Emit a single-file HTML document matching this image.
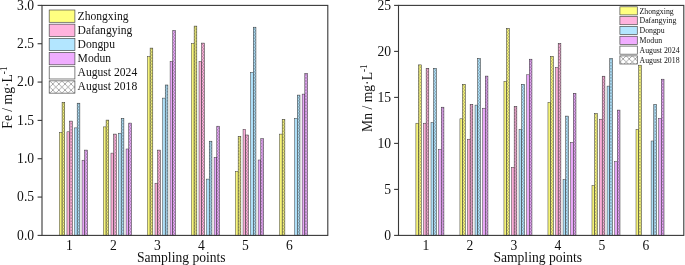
<!DOCTYPE html>
<html><head><meta charset="utf-8"><title>Fe and Mn at sampling points</title>
<style>html,body{margin:0;padding:0;background:#fff}svg{display:block}</style>
</head><body>
<svg width="685" height="265" viewBox="0 0 685 265" font-family="'Liberation Serif','DejaVu Serif',serif" fill="#111">
<defs>
<pattern id="hL" patternUnits="userSpaceOnUse" width="6.1" height="6.1" x="4.0" y="4.7">
<path d="M0 0L6.1 6.1M6.1 0L0 6.1" stroke="#333" stroke-width="0.42" fill="none"/>
</pattern>
<pattern id="hR" patternUnits="userSpaceOnUse" width="6.1" height="6.1" x="0.90" y="4.00">
<path d="M0 0L6.1 6.1M6.1 0L0 6.1" stroke="#333" stroke-width="0.42" fill="none"/>
</pattern>
<pattern id="bL" patternUnits="userSpaceOnUse" width="3.05" height="3.05" x="0.95" y="1.65">
<path d="M0 0L3.05 3.05M3.05 0L0 3.05" stroke="#333" stroke-width="0.24" fill="none"/>
</pattern>
</defs>
<rect width="685" height="265" fill="#fff"/>
<g>
<rect x="59.40" y="132.50" width="2.68" height="102.90" fill="#f6f47a" stroke="#2a2a2a" stroke-width="0.45"/>
<rect x="62.08" y="102.30" width="2.68" height="133.10" fill="#f6f47a" stroke="#2a2a2a" stroke-width="0.5"/>
<rect x="62.08" y="102.30" width="2.68" height="133.10" fill="url(#bL)" stroke="none"/>
<rect x="66.95" y="131.80" width="2.68" height="103.60" fill="#f9add7" stroke="#2a2a2a" stroke-width="0.45"/>
<rect x="69.63" y="121.10" width="2.68" height="114.30" fill="#f9add7" stroke="#2a2a2a" stroke-width="0.5"/>
<rect x="69.63" y="121.10" width="2.68" height="114.30" fill="url(#bL)" stroke="none"/>
<rect x="74.50" y="127.90" width="2.68" height="107.50" fill="#addff8" stroke="#2a2a2a" stroke-width="0.45"/>
<rect x="77.18" y="103.20" width="2.68" height="132.20" fill="#addff8" stroke="#2a2a2a" stroke-width="0.5"/>
<rect x="77.18" y="103.20" width="2.68" height="132.20" fill="url(#bL)" stroke="none"/>
<rect x="82.05" y="160.20" width="2.68" height="75.20" fill="#e8a7f8" stroke="#2a2a2a" stroke-width="0.45"/>
<rect x="84.73" y="150.10" width="2.68" height="85.30" fill="#e8a7f8" stroke="#2a2a2a" stroke-width="0.5"/>
<rect x="84.73" y="150.10" width="2.68" height="85.30" fill="url(#bL)" stroke="none"/>
<rect x="103.42" y="126.90" width="2.68" height="108.50" fill="#f6f47a" stroke="#2a2a2a" stroke-width="0.45"/>
<rect x="106.10" y="120.10" width="2.68" height="115.30" fill="#f6f47a" stroke="#2a2a2a" stroke-width="0.5"/>
<rect x="106.10" y="120.10" width="2.68" height="115.30" fill="url(#bL)" stroke="none"/>
<rect x="110.97" y="153.10" width="2.68" height="82.30" fill="#f9add7" stroke="#2a2a2a" stroke-width="0.45"/>
<rect x="113.65" y="134.10" width="2.68" height="101.30" fill="#f9add7" stroke="#2a2a2a" stroke-width="0.5"/>
<rect x="113.65" y="134.10" width="2.68" height="101.30" fill="url(#bL)" stroke="none"/>
<rect x="118.52" y="133.20" width="2.68" height="102.20" fill="#addff8" stroke="#2a2a2a" stroke-width="0.45"/>
<rect x="121.20" y="118.40" width="2.68" height="117.00" fill="#addff8" stroke="#2a2a2a" stroke-width="0.5"/>
<rect x="121.20" y="118.40" width="2.68" height="117.00" fill="url(#bL)" stroke="none"/>
<rect x="126.07" y="149.00" width="2.68" height="86.40" fill="#e8a7f8" stroke="#2a2a2a" stroke-width="0.45"/>
<rect x="128.75" y="123.10" width="2.68" height="112.30" fill="#e8a7f8" stroke="#2a2a2a" stroke-width="0.5"/>
<rect x="128.75" y="123.10" width="2.68" height="112.30" fill="url(#bL)" stroke="none"/>
<rect x="147.44" y="56.50" width="2.68" height="178.90" fill="#f6f47a" stroke="#2a2a2a" stroke-width="0.45"/>
<rect x="150.12" y="48.10" width="2.68" height="187.30" fill="#f6f47a" stroke="#2a2a2a" stroke-width="0.5"/>
<rect x="150.12" y="48.10" width="2.68" height="187.30" fill="url(#bL)" stroke="none"/>
<rect x="154.99" y="183.20" width="2.68" height="52.20" fill="#f9add7" stroke="#2a2a2a" stroke-width="0.45"/>
<rect x="157.67" y="150.10" width="2.68" height="85.30" fill="#f9add7" stroke="#2a2a2a" stroke-width="0.5"/>
<rect x="157.67" y="150.10" width="2.68" height="85.30" fill="url(#bL)" stroke="none"/>
<rect x="162.54" y="98.10" width="2.68" height="137.30" fill="#addff8" stroke="#2a2a2a" stroke-width="0.45"/>
<rect x="165.22" y="85.00" width="2.68" height="150.40" fill="#addff8" stroke="#2a2a2a" stroke-width="0.5"/>
<rect x="165.22" y="85.00" width="2.68" height="150.40" fill="url(#bL)" stroke="none"/>
<rect x="170.09" y="61.30" width="2.68" height="174.10" fill="#e8a7f8" stroke="#2a2a2a" stroke-width="0.45"/>
<rect x="172.77" y="30.50" width="2.68" height="204.90" fill="#e8a7f8" stroke="#2a2a2a" stroke-width="0.5"/>
<rect x="172.77" y="30.50" width="2.68" height="204.90" fill="url(#bL)" stroke="none"/>
<rect x="191.46" y="43.50" width="2.68" height="191.90" fill="#f6f47a" stroke="#2a2a2a" stroke-width="0.45"/>
<rect x="194.14" y="26.10" width="2.68" height="209.30" fill="#f6f47a" stroke="#2a2a2a" stroke-width="0.5"/>
<rect x="194.14" y="26.10" width="2.68" height="209.30" fill="url(#bL)" stroke="none"/>
<rect x="199.01" y="61.50" width="2.68" height="173.90" fill="#f9add7" stroke="#2a2a2a" stroke-width="0.45"/>
<rect x="201.69" y="43.10" width="2.68" height="192.30" fill="#f9add7" stroke="#2a2a2a" stroke-width="0.5"/>
<rect x="201.69" y="43.10" width="2.68" height="192.30" fill="url(#bL)" stroke="none"/>
<rect x="206.56" y="179.10" width="2.68" height="56.30" fill="#addff8" stroke="#2a2a2a" stroke-width="0.45"/>
<rect x="209.24" y="141.20" width="2.68" height="94.20" fill="#addff8" stroke="#2a2a2a" stroke-width="0.5"/>
<rect x="209.24" y="141.20" width="2.68" height="94.20" fill="url(#bL)" stroke="none"/>
<rect x="214.11" y="157.50" width="2.68" height="77.90" fill="#e8a7f8" stroke="#2a2a2a" stroke-width="0.45"/>
<rect x="216.79" y="126.20" width="2.68" height="109.20" fill="#e8a7f8" stroke="#2a2a2a" stroke-width="0.5"/>
<rect x="216.79" y="126.20" width="2.68" height="109.20" fill="url(#bL)" stroke="none"/>
<rect x="235.48" y="171.40" width="2.68" height="64.00" fill="#f6f47a" stroke="#2a2a2a" stroke-width="0.45"/>
<rect x="238.16" y="136.40" width="2.68" height="99.00" fill="#f6f47a" stroke="#2a2a2a" stroke-width="0.5"/>
<rect x="238.16" y="136.40" width="2.68" height="99.00" fill="url(#bL)" stroke="none"/>
<rect x="243.03" y="129.30" width="2.68" height="106.10" fill="#f9add7" stroke="#2a2a2a" stroke-width="0.45"/>
<rect x="245.71" y="135.00" width="2.68" height="100.40" fill="#f9add7" stroke="#2a2a2a" stroke-width="0.5"/>
<rect x="245.71" y="135.00" width="2.68" height="100.40" fill="url(#bL)" stroke="none"/>
<rect x="250.58" y="72.30" width="2.68" height="163.10" fill="#addff8" stroke="#2a2a2a" stroke-width="0.45"/>
<rect x="253.26" y="27.20" width="2.68" height="208.20" fill="#addff8" stroke="#2a2a2a" stroke-width="0.5"/>
<rect x="253.26" y="27.20" width="2.68" height="208.20" fill="url(#bL)" stroke="none"/>
<rect x="258.13" y="160.00" width="2.68" height="75.40" fill="#e8a7f8" stroke="#2a2a2a" stroke-width="0.45"/>
<rect x="260.81" y="138.70" width="2.68" height="96.70" fill="#e8a7f8" stroke="#2a2a2a" stroke-width="0.5"/>
<rect x="260.81" y="138.70" width="2.68" height="96.70" fill="url(#bL)" stroke="none"/>
<rect x="279.50" y="134.10" width="2.68" height="101.30" fill="#f6f47a" stroke="#2a2a2a" stroke-width="0.45"/>
<rect x="282.18" y="119.40" width="2.68" height="116.00" fill="#f6f47a" stroke="#2a2a2a" stroke-width="0.5"/>
<rect x="282.18" y="119.40" width="2.68" height="116.00" fill="url(#bL)" stroke="none"/>
<rect x="294.60" y="118.40" width="2.68" height="117.00" fill="#addff8" stroke="#2a2a2a" stroke-width="0.45"/>
<rect x="297.28" y="95.10" width="2.68" height="140.30" fill="#addff8" stroke="#2a2a2a" stroke-width="0.5"/>
<rect x="297.28" y="95.10" width="2.68" height="140.30" fill="url(#bL)" stroke="none"/>
<rect x="302.15" y="94.10" width="2.68" height="141.30" fill="#e8a7f8" stroke="#2a2a2a" stroke-width="0.45"/>
<rect x="304.83" y="73.40" width="2.68" height="162.00" fill="#e8a7f8" stroke="#2a2a2a" stroke-width="0.5"/>
<rect x="304.83" y="73.40" width="2.68" height="162.00" fill="url(#bL)" stroke="none"/>
</g>
<g>
<rect x="415.90" y="123.20" width="2.68" height="112.20" fill="#f6f47a" stroke="#2a2a2a" stroke-width="0.45"/>
<rect x="418.58" y="64.90" width="2.68" height="170.50" fill="#f6f47a" stroke="#2a2a2a" stroke-width="0.5"/>
<rect x="418.58" y="64.90" width="2.68" height="170.50" fill="url(#bL)" stroke="none"/>
<rect x="423.45" y="123.20" width="2.68" height="112.20" fill="#f9add7" stroke="#2a2a2a" stroke-width="0.45"/>
<rect x="426.13" y="68.30" width="2.68" height="167.10" fill="#f9add7" stroke="#2a2a2a" stroke-width="0.5"/>
<rect x="426.13" y="68.30" width="2.68" height="167.10" fill="url(#bL)" stroke="none"/>
<rect x="431.00" y="122.50" width="2.68" height="112.90" fill="#addff8" stroke="#2a2a2a" stroke-width="0.45"/>
<rect x="433.68" y="68.30" width="2.68" height="167.10" fill="#addff8" stroke="#2a2a2a" stroke-width="0.5"/>
<rect x="433.68" y="68.30" width="2.68" height="167.10" fill="url(#bL)" stroke="none"/>
<rect x="438.55" y="149.60" width="2.68" height="85.80" fill="#e8a7f8" stroke="#2a2a2a" stroke-width="0.45"/>
<rect x="441.23" y="107.20" width="2.68" height="128.20" fill="#e8a7f8" stroke="#2a2a2a" stroke-width="0.5"/>
<rect x="441.23" y="107.20" width="2.68" height="128.20" fill="url(#bL)" stroke="none"/>
<rect x="459.92" y="118.80" width="2.68" height="116.60" fill="#f6f47a" stroke="#2a2a2a" stroke-width="0.45"/>
<rect x="462.60" y="84.30" width="2.68" height="151.10" fill="#f6f47a" stroke="#2a2a2a" stroke-width="0.5"/>
<rect x="462.60" y="84.30" width="2.68" height="151.10" fill="url(#bL)" stroke="none"/>
<rect x="467.47" y="139.20" width="2.68" height="96.20" fill="#f9add7" stroke="#2a2a2a" stroke-width="0.45"/>
<rect x="470.15" y="104.40" width="2.68" height="131.00" fill="#f9add7" stroke="#2a2a2a" stroke-width="0.5"/>
<rect x="470.15" y="104.40" width="2.68" height="131.00" fill="url(#bL)" stroke="none"/>
<rect x="475.02" y="105.10" width="2.68" height="130.30" fill="#addff8" stroke="#2a2a2a" stroke-width="0.45"/>
<rect x="477.70" y="58.40" width="2.68" height="177.00" fill="#addff8" stroke="#2a2a2a" stroke-width="0.5"/>
<rect x="477.70" y="58.40" width="2.68" height="177.00" fill="url(#bL)" stroke="none"/>
<rect x="482.57" y="108.20" width="2.68" height="127.20" fill="#e8a7f8" stroke="#2a2a2a" stroke-width="0.45"/>
<rect x="485.25" y="76.10" width="2.68" height="159.30" fill="#e8a7f8" stroke="#2a2a2a" stroke-width="0.5"/>
<rect x="485.25" y="76.10" width="2.68" height="159.30" fill="url(#bL)" stroke="none"/>
<rect x="503.94" y="81.40" width="2.68" height="154.00" fill="#f6f47a" stroke="#2a2a2a" stroke-width="0.45"/>
<rect x="506.62" y="28.40" width="2.68" height="207.00" fill="#f6f47a" stroke="#2a2a2a" stroke-width="0.5"/>
<rect x="506.62" y="28.40" width="2.68" height="207.00" fill="url(#bL)" stroke="none"/>
<rect x="511.49" y="167.40" width="2.68" height="68.00" fill="#f9add7" stroke="#2a2a2a" stroke-width="0.45"/>
<rect x="514.17" y="106.50" width="2.68" height="128.90" fill="#f9add7" stroke="#2a2a2a" stroke-width="0.5"/>
<rect x="514.17" y="106.50" width="2.68" height="128.90" fill="url(#bL)" stroke="none"/>
<rect x="519.04" y="129.70" width="2.68" height="105.70" fill="#addff8" stroke="#2a2a2a" stroke-width="0.45"/>
<rect x="521.72" y="84.30" width="2.68" height="151.10" fill="#addff8" stroke="#2a2a2a" stroke-width="0.5"/>
<rect x="521.72" y="84.30" width="2.68" height="151.10" fill="url(#bL)" stroke="none"/>
<rect x="526.59" y="74.80" width="2.68" height="160.60" fill="#e8a7f8" stroke="#2a2a2a" stroke-width="0.45"/>
<rect x="529.27" y="59.20" width="2.68" height="176.20" fill="#e8a7f8" stroke="#2a2a2a" stroke-width="0.5"/>
<rect x="529.27" y="59.20" width="2.68" height="176.20" fill="url(#bL)" stroke="none"/>
<rect x="547.96" y="102.40" width="2.68" height="133.00" fill="#f6f47a" stroke="#2a2a2a" stroke-width="0.45"/>
<rect x="550.64" y="56.40" width="2.68" height="179.00" fill="#f6f47a" stroke="#2a2a2a" stroke-width="0.5"/>
<rect x="550.64" y="56.40" width="2.68" height="179.00" fill="url(#bL)" stroke="none"/>
<rect x="555.51" y="67.60" width="2.68" height="167.80" fill="#f9add7" stroke="#2a2a2a" stroke-width="0.45"/>
<rect x="558.19" y="43.50" width="2.68" height="191.90" fill="#f9add7" stroke="#2a2a2a" stroke-width="0.5"/>
<rect x="558.19" y="43.50" width="2.68" height="191.90" fill="url(#bL)" stroke="none"/>
<rect x="563.06" y="179.60" width="2.68" height="55.80" fill="#addff8" stroke="#2a2a2a" stroke-width="0.45"/>
<rect x="565.74" y="116.10" width="2.68" height="119.30" fill="#addff8" stroke="#2a2a2a" stroke-width="0.5"/>
<rect x="565.74" y="116.10" width="2.68" height="119.30" fill="url(#bL)" stroke="none"/>
<rect x="570.61" y="142.30" width="2.68" height="93.10" fill="#e8a7f8" stroke="#2a2a2a" stroke-width="0.45"/>
<rect x="573.29" y="93.30" width="2.68" height="142.10" fill="#e8a7f8" stroke="#2a2a2a" stroke-width="0.5"/>
<rect x="573.29" y="93.30" width="2.68" height="142.10" fill="url(#bL)" stroke="none"/>
<rect x="591.98" y="185.50" width="2.68" height="49.90" fill="#f6f47a" stroke="#2a2a2a" stroke-width="0.45"/>
<rect x="594.66" y="113.60" width="2.68" height="121.80" fill="#f6f47a" stroke="#2a2a2a" stroke-width="0.5"/>
<rect x="594.66" y="113.60" width="2.68" height="121.80" fill="url(#bL)" stroke="none"/>
<rect x="599.53" y="119.20" width="2.68" height="116.20" fill="#f9add7" stroke="#2a2a2a" stroke-width="0.45"/>
<rect x="602.21" y="76.20" width="2.68" height="159.20" fill="#f9add7" stroke="#2a2a2a" stroke-width="0.5"/>
<rect x="602.21" y="76.20" width="2.68" height="159.20" fill="url(#bL)" stroke="none"/>
<rect x="607.08" y="86.10" width="2.68" height="149.30" fill="#addff8" stroke="#2a2a2a" stroke-width="0.45"/>
<rect x="609.76" y="58.40" width="2.68" height="177.00" fill="#addff8" stroke="#2a2a2a" stroke-width="0.5"/>
<rect x="609.76" y="58.40" width="2.68" height="177.00" fill="url(#bL)" stroke="none"/>
<rect x="614.63" y="161.70" width="2.68" height="73.70" fill="#e8a7f8" stroke="#2a2a2a" stroke-width="0.45"/>
<rect x="617.31" y="110.10" width="2.68" height="125.30" fill="#e8a7f8" stroke="#2a2a2a" stroke-width="0.5"/>
<rect x="617.31" y="110.10" width="2.68" height="125.30" fill="url(#bL)" stroke="none"/>
<rect x="636.00" y="129.40" width="2.68" height="106.00" fill="#f6f47a" stroke="#2a2a2a" stroke-width="0.45"/>
<rect x="638.68" y="65.20" width="2.68" height="170.20" fill="#f6f47a" stroke="#2a2a2a" stroke-width="0.5"/>
<rect x="638.68" y="65.20" width="2.68" height="170.20" fill="url(#bL)" stroke="none"/>
<rect x="651.10" y="141.00" width="2.68" height="94.40" fill="#addff8" stroke="#2a2a2a" stroke-width="0.45"/>
<rect x="653.78" y="104.40" width="2.68" height="131.00" fill="#addff8" stroke="#2a2a2a" stroke-width="0.5"/>
<rect x="653.78" y="104.40" width="2.68" height="131.00" fill="url(#bL)" stroke="none"/>
<rect x="658.65" y="118.40" width="2.68" height="117.00" fill="#e8a7f8" stroke="#2a2a2a" stroke-width="0.45"/>
<rect x="661.33" y="79.20" width="2.68" height="156.20" fill="#e8a7f8" stroke="#2a2a2a" stroke-width="0.5"/>
<rect x="661.33" y="79.20" width="2.68" height="156.20" fill="url(#bL)" stroke="none"/>
</g>
<rect x="42.00" y="5.40" width="285.80" height="230.00" fill="none" stroke="#383838" stroke-width="1.1"/>
<line x1="37.60" y1="5.40" x2="42.00" y2="5.40" stroke="#383838" stroke-width="1.1"/>
<text x="34.10" y="9.80" text-anchor="end" font-size="13.6">3.0</text>
<line x1="37.60" y1="43.73" x2="42.00" y2="43.73" stroke="#383838" stroke-width="1.1"/>
<text x="34.10" y="48.13" text-anchor="end" font-size="13.6">2.5</text>
<line x1="37.60" y1="82.07" x2="42.00" y2="82.07" stroke="#383838" stroke-width="1.1"/>
<text x="34.10" y="86.47" text-anchor="end" font-size="13.6">2.0</text>
<line x1="37.60" y1="120.40" x2="42.00" y2="120.40" stroke="#383838" stroke-width="1.1"/>
<text x="34.10" y="124.80" text-anchor="end" font-size="13.6">1.5</text>
<line x1="37.60" y1="158.73" x2="42.00" y2="158.73" stroke="#383838" stroke-width="1.1"/>
<text x="34.10" y="163.13" text-anchor="end" font-size="13.6">1.0</text>
<line x1="37.60" y1="197.07" x2="42.00" y2="197.07" stroke="#383838" stroke-width="1.1"/>
<text x="34.10" y="201.47" text-anchor="end" font-size="13.6">0.5</text>
<line x1="37.60" y1="235.40" x2="42.00" y2="235.40" stroke="#383838" stroke-width="1.1"/>
<text x="34.10" y="239.80" text-anchor="end" font-size="13.6">0.0</text>
<rect x="398.50" y="5.40" width="285.30" height="230.00" fill="none" stroke="#383838" stroke-width="1.1"/>
<line x1="394.10" y1="5.40" x2="398.50" y2="5.40" stroke="#383838" stroke-width="1.1"/>
<text x="391.00" y="9.80" text-anchor="end" font-size="13.6">25</text>
<line x1="394.10" y1="51.40" x2="398.50" y2="51.40" stroke="#383838" stroke-width="1.1"/>
<text x="391.00" y="55.80" text-anchor="end" font-size="13.6">20</text>
<line x1="394.10" y1="97.40" x2="398.50" y2="97.40" stroke="#383838" stroke-width="1.1"/>
<text x="391.00" y="101.80" text-anchor="end" font-size="13.6">15</text>
<line x1="394.10" y1="143.40" x2="398.50" y2="143.40" stroke="#383838" stroke-width="1.1"/>
<text x="391.00" y="147.80" text-anchor="end" font-size="13.6">10</text>
<line x1="394.10" y1="189.40" x2="398.50" y2="189.40" stroke="#383838" stroke-width="1.1"/>
<text x="391.00" y="193.80" text-anchor="end" font-size="13.6">5</text>
<line x1="394.10" y1="235.40" x2="398.50" y2="235.40" stroke="#383838" stroke-width="1.1"/>
<text x="391.00" y="239.80" text-anchor="end" font-size="13.6">0</text>
<text x="69.40" y="249.8" text-anchor="middle" font-size="13.6">1</text>
<text x="113.42" y="249.8" text-anchor="middle" font-size="13.6">2</text>
<text x="157.44" y="249.8" text-anchor="middle" font-size="13.6">3</text>
<text x="201.46" y="249.8" text-anchor="middle" font-size="13.6">4</text>
<text x="245.48" y="249.8" text-anchor="middle" font-size="13.6">5</text>
<text x="289.50" y="249.8" text-anchor="middle" font-size="13.6">6</text>
<text x="136.90" y="261.7" font-size="13.6">Sampling points</text>
<text x="425.90" y="249.8" text-anchor="middle" font-size="13.6">1</text>
<text x="469.92" y="249.8" text-anchor="middle" font-size="13.6">2</text>
<text x="513.94" y="249.8" text-anchor="middle" font-size="13.6">3</text>
<text x="557.96" y="249.8" text-anchor="middle" font-size="13.6">4</text>
<text x="601.98" y="249.8" text-anchor="middle" font-size="13.6">5</text>
<text x="646.00" y="249.8" text-anchor="middle" font-size="13.6">6</text>
<text x="493.40" y="261.7" font-size="13.6">Sampling points</text>
<text transform="translate(11.90,128.70) rotate(-90)" font-size="13.65">Fe / mg·L<tspan font-size="9.4" dy="-5.2">-1</tspan></text>
<text transform="translate(371.80,131.90) rotate(-90)" font-size="13.65">Mn / mg·L<tspan font-size="9.4" dy="-5.2">-1</tspan></text>
<rect x="49.20" y="10.00" width="25.70" height="12.30" fill="#ffff80" stroke="#4c4c4c" stroke-width="0.7"/>
<text x="77.60" y="19.60" font-size="11.6">Zhongxing</text>
<rect x="49.20" y="24.17" width="25.70" height="12.30" fill="#ffb3de" stroke="#4c4c4c" stroke-width="0.7"/>
<text x="77.60" y="33.77" font-size="11.6">Dafangying</text>
<rect x="49.20" y="38.34" width="25.70" height="12.30" fill="#b3e6ff" stroke="#4c4c4c" stroke-width="0.7"/>
<text x="77.60" y="47.94" font-size="11.6">Dongpu</text>
<rect x="49.20" y="52.51" width="25.70" height="12.30" fill="#f0adff" stroke="#4c4c4c" stroke-width="0.7"/>
<text x="77.60" y="62.11" font-size="11.6">Modun</text>
<rect x="49.20" y="66.68" width="25.70" height="12.30" fill="#ffffff" stroke="#4c4c4c" stroke-width="0.7"/>
<text x="77.60" y="76.28" font-size="11.6">August 2024</text>
<rect x="49.20" y="80.85" width="25.70" height="12.30" fill="#ffffff" stroke="#4c4c4c" stroke-width="0.7"/>
<rect x="49.20" y="80.85" width="25.70" height="12.30" fill="url(#hL)" stroke="none"/>
<text x="77.60" y="90.45" font-size="11.6">August 2018</text>
<rect x="619.90" y="6.80" width="17.40" height="8.10" fill="#ffff80" stroke="#4c4c4c" stroke-width="0.7"/>
<text x="639.50" y="13.60" font-size="7.8">Zhongxing</text>
<rect x="619.90" y="16.62" width="17.40" height="8.10" fill="#ffb3de" stroke="#4c4c4c" stroke-width="0.7"/>
<text x="639.50" y="23.42" font-size="7.8">Dafangying</text>
<rect x="619.90" y="26.44" width="17.40" height="8.10" fill="#b3e6ff" stroke="#4c4c4c" stroke-width="0.7"/>
<text x="639.50" y="33.24" font-size="7.8">Dongpu</text>
<rect x="619.90" y="36.26" width="17.40" height="8.10" fill="#f0adff" stroke="#4c4c4c" stroke-width="0.7"/>
<text x="639.50" y="43.06" font-size="7.8">Modun</text>
<rect x="619.90" y="46.08" width="17.40" height="8.10" fill="#ffffff" stroke="#4c4c4c" stroke-width="0.7"/>
<text x="639.50" y="52.88" font-size="7.8">August 2024</text>
<rect x="619.90" y="55.90" width="17.40" height="8.10" fill="#ffffff" stroke="#4c4c4c" stroke-width="0.7"/>
<rect x="619.90" y="55.90" width="17.40" height="8.10" fill="url(#hR)" stroke="none"/>
<text x="639.50" y="62.70" font-size="7.8">August 2018</text>
</svg>
</body></html>
